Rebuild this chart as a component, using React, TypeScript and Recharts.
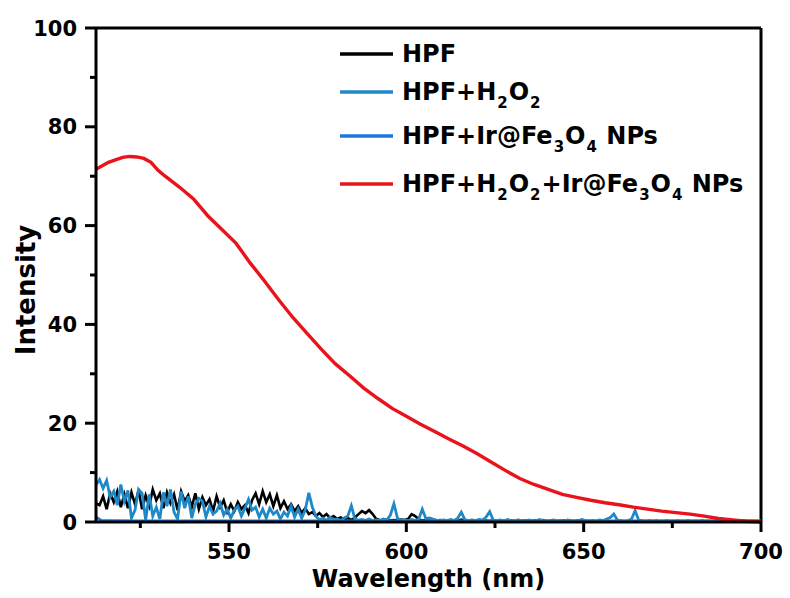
import React from 'react';
import { LineChart, Line, XAxis, YAxis, ReferenceLine } from 'recharts';

const FONT = '"DejaVu Sans", "Liberation Sans", Arial, sans-serif';

// ---- axes ----
const X_TICKS = [525, 550, 575, 600, 625, 650, 675, 700];
const X_MAJOR = [550, 600, 650, 700];
const Y_TICKS = [0, 10, 20, 30, 40, 50, 60, 70, 80, 90, 100];
const Y_MAJOR = [0, 20, 40, 60, 80, 100];

// ---- noisy spectra sampled every 1 nm from 512.5 nm ----
const NOISE_START = 512.5;
const NOISE_STEP = 1;

const hpf = [
  3.8, 3.4, 5.2, 2.6, 5.8, 4.0, 6.2, 3.0, 5.6, 2.8,
  6.0, 3.6, 6.4, 2.6, 5.4, 3.2, 6.6, 4.4, 5.8, 2.8,
  6.0, 3.8, 5.6, 2.4, 6.2, 4.2, 5.4, 3.0, 5.8, 2.6,
  5.0, 3.4, 4.6, 2.2, 5.2, 3.0, 4.4, 2.0, 3.6, 2.2,
  4.0, 2.6, 3.4, 1.8, 4.4, 5.8, 3.6, 6.2, 4.0, 5.6,
  3.2, 5.4, 2.8, 4.2, 2.6, 3.6, 2.2, 3.2, 1.8, 2.8,
  1.6, 2.0, 1.2, 1.8, 1.0, 1.6, 0.8, 1.2, 0.6, 0.9,
  0.5, 0.8, 0.4, 0.9, 1.6, 2.2, 1.8, 2.4, 1.6, 0.6,
  0.4, 0.3, 0.5, 0.3, 0.4, 0.3, 0.5, 0.4, 0.6, 1.6,
  1.2, 0.5, 0.3, 0.4, 0.3, 0.5, 0.2, 0.4, 0.3, 0.2,
  0.4, 0.3, 0.2, 0.5, 0.3, 0.2, 0.4, 0.2, 0.3, 0.2,
  0.3, 0.2, 0.4, 0.2, 0.3, 0.2, 0.2, 0.3, 0.2, 0.4,
  0.2, 0.3, 0.2, 0.2, 0.3, 0.2, 0.4, 0.2, 0.2, 0.3,
  0.2, 0.2, 0.3, 0.2, 0.2, 0.2, 0.3, 0.2, 0.2, 0.2,
  0.1, 0.2, 0.1, 0.1, 0.2, 0.1, 0.1, 0.1, 0.2, 0.1,
  0.1, 0.1, 0.1, 0.1, 0.1, 0.1, 0.1, 0.1, 0.1, 0.1,
  0.1, 0.1, 0.1, 0.1, 0.1, 0.1, 0.1, 0.1, 0.1, 0.1,
  0.1, 0.1, 0.1, 0.1, 0.1, 0.1, 0.1, 0.1, 0.1, 0.1,
  0.1, 0.1, 0.1, 0.1, 0.1, 0.1, 0.1, 0.1,
];

const hpfH2O2 = [
  7.5, 8.6, 6.8, 8.4, 5.0, 6.2, 3.4, 7.6, 4.2, 6.4,
  0.8, 2.4, 6.6, 5.8, 0.4, 5.6, 1.2, 3.0, 0.6, 6.0,
  3.2, 6.6, 2.0, 0.6, 6.2, 2.8, 5.2, 0.8, 3.6, 4.8,
  4.2, 1.0, 3.2, 1.6, 2.2, 3.8, 1.4, 2.6, 0.8, 2.4,
  3.2, 1.2, 2.8, 4.6, 2.4, 3.0, 1.0, 2.6, 0.8, 2.8,
  1.6, 2.2, 0.6, 2.0, 1.2, 3.2, 1.0, 2.6, 0.8, 2.4,
  5.9, 3.0, 1.2, 0.4, 0.8, 0.3, 1.0, 0.4, 0.6, 0.3,
  0.8, 1.2, 3.3, 0.6, 0.4, 0.5, 0.3, 0.6, 0.3, 0.4,
  0.3, 0.6, 0.4, 1.4, 3.7, 0.8, 0.3, 0.4, 0.3, 0.5,
  0.3, 0.6, 2.6, 0.7, 0.8, 0.6, 0.4, 0.3, 0.4, 0.3,
  0.5, 0.3, 0.8, 2.0, 0.5, 0.3, 0.4, 0.3, 0.5, 0.4,
  1.0, 2.1, 0.4, 0.3, 0.4, 0.2, 0.5, 0.3, 0.2, 0.4,
  0.3, 0.2, 0.4, 0.3, 0.2, 0.5, 0.3, 0.2, 0.3, 0.4,
  0.2, 0.3, 0.2, 0.4, 0.3, 0.2, 0.3, 0.5, 0.3, 0.2,
  0.3, 0.2, 0.4, 0.3, 0.6, 0.9, 1.6, 0.4, 0.3, 0.2,
  0.3, 0.6, 2.3, 0.4, 0.3, 0.2, 0.3, 0.2, 0.3, 0.2,
  0.2, 0.3, 0.2, 0.2, 0.3, 0.2, 0.2, 0.3, 0.2, 0.2,
  0.2, 0.3, 0.2, 0.2, 0.2, 0.3, 0.2, 0.2, 0.2, 0.2,
  0.2, 0.2, 0.2, 0.2, 0.2, 0.2, 0.2, 0.2,
];

// ---- flat spectrum ----
const irWl = [512.5, 514, 517, 525, 550, 575, 600, 625, 650, 675, 700];
const irVals = [1.0, 0.3, 0.25, 0.2, 0.2, 0.2, 0.2, 0.2, 0.2, 0.2, 0.2];

// ---- strong emission spectrum ----
const redWl = [
  512.5, 516, 520, 522, 524, 526, 528, 530, 532, 536, 540, 544, 548, 552, 556,
  560, 564, 568, 572, 576, 580, 584, 588, 592, 596, 600, 604, 608, 612, 616,
  620, 624, 628, 632, 636, 640, 644, 648, 652, 656, 660, 664, 668, 672, 676,
  680, 684, 688, 692, 696, 700,
];
const redVals = [
  71.4, 72.8, 73.8, 74.0, 73.9, 73.6, 72.8, 71.2, 70.0, 67.8, 65.4, 62.0, 59.2, 56.4, 52.4,
  48.8, 45.0, 41.4, 38.2, 35.0, 32.0, 29.6, 27.1, 25.0, 23.0, 21.4, 19.8, 18.3, 16.8, 15.4,
  13.8, 12.1, 10.4, 8.8, 7.6, 6.6, 5.6, 5.0, 4.4, 3.9, 3.5, 3.0, 2.6, 2.2, 1.9,
  1.6, 1.2, 0.7, 0.4, 0.15, 0.0,
];

const noiseWl = hpf.map((_, i) => NOISE_START + i * NOISE_STEP);
const toPts = (xs: number[], ys: number[]) => xs.map((x, i) => ({ x, y: ys[i] }));

const hpfData = toPts(noiseWl, hpf);
const h2o2Data = toPts(noiseWl, hpfH2O2);
const irData = toPts(irWl, irVals);
const redData = toPts(redWl, redVals);

const C_BLACK = '#000000';
const C_H2O2 = '#1f88c9';
const C_IR = '#1a78e0';
const C_RED = '#e8131b';

const XTick = (props: any) => {
  const { x, y, payload } = props;
  const major = X_MAJOR.includes(payload.value);
  return (
    <g>
      <line x1={x} x2={x} y1={y} y2={y + (major ? 10 : 6)} stroke="#000" strokeWidth={3} />
      {major && (
        <text x={x} y={y + 37} textAnchor="middle" fontFamily={FONT} fontWeight="bold" fontSize={21} fill="#000">
          {payload.value}
        </text>
      )}
    </g>
  );
};

const YTick = (props: any) => {
  const { x, y, payload } = props;
  const major = Y_MAJOR.includes(payload.value);
  return (
    <g>
      <line x1={x} x2={x - (major ? 11 : 6)} y1={y} y2={y} stroke="#000" strokeWidth={3} />
      {major && (
        <text x={x - 19} y={y + 7.5} textAnchor="end" fontFamily={FONT} fontWeight="bold" fontSize={21} fill="#000">
          {payload.value}
        </text>
      )}
    </g>
  );
};

const XLabel = (props: any) => {
  const vb = props.viewBox || {};
  return (
    <text x={vb.x + vb.width / 2} y={vb.y + 65} textAnchor="middle" fontFamily={FONT} fontWeight="bold" fontSize={24} fill="#000">
      Wavelength (nm)
    </text>
  );
};

const YLabel = (props: any) => {
  const vb = props.viewBox || {};
  const cx = vb.x + 35;
  const cy = vb.y + vb.height / 2 + 15;
  return (
    <text x={cx} y={cy} transform={`rotate(-90 ${cx} ${cy})`} textAnchor="middle" fontFamily={FONT} fontWeight="bold" fontSize={26} fill="#000">
      Intensity
    </text>
  );
};

const Sub = ({ children }: { children: React.ReactNode }) => (
  <span style={{ fontSize: 15, position: 'relative', top: 8, margin: '0 1px' }}>{children}</span>
);

const legendItems: { color: string; cy: number; label: React.ReactNode }[] = [
  { color: C_BLACK, cy: 54, label: <>HPF</> },
  { color: C_H2O2, cy: 92, label: <>HPF+H<Sub>2</Sub>O<Sub>2</Sub></> },
  { color: C_IR, cy: 136, label: <>HPF+Ir@Fe<Sub>3</Sub>O<Sub>4</Sub> NPs</> },
  { color: C_RED, cy: 184, label: <>HPF+H<Sub>2</Sub>O<Sub>2</Sub>+Ir@Fe<Sub>3</Sub>O<Sub>4</Sub> NPs</> },
];

export default function App() {
  return (
    <div style={{ position: 'absolute', left: 0, top: 0, width: 790, height: 598, background: '#fff' }}>
      <LineChart width={790} height={598} margin={{ top: 28, right: 29, bottom: 0, left: 0 }}>
        <XAxis
          dataKey="x"
          type="number"
          domain={[512.5, 700]}
          allowDataOverflow
          ticks={X_TICKS}
          interval={0}
          tick={<XTick />}
          tickLine={false}
          tickSize={0}
          tickMargin={0}
          height={76}
          axisLine={{ stroke: '#000', strokeWidth: 3 }}
          label={<XLabel />}
        />
        <YAxis
          type="number"
          domain={[0, 100]}
          ticks={Y_TICKS}
          interval={0}
          tick={<YTick />}
          tickLine={false}
          tickSize={0}
          tickMargin={0}
          width={96}
          axisLine={{ stroke: '#000', strokeWidth: 3 }}
          label={<YLabel />}
        />
        <ReferenceLine y={100} stroke="#000" strokeWidth={3} />
        <ReferenceLine x={700} stroke="#000" strokeWidth={3} />
        <Line data={hpfData} dataKey="y" type="linear" stroke={C_BLACK} strokeWidth={2.6} dot={false} isAnimationActive={false} />
        <Line data={irData} dataKey="y" type="linear" stroke={C_IR} strokeWidth={2.8} dot={false} isAnimationActive={false} />
        <Line data={h2o2Data} dataKey="y" type="linear" stroke={C_H2O2} strokeWidth={2.8} dot={false} isAnimationActive={false} />
        <Line data={redData} dataKey="y" type="linear" stroke={C_RED} strokeWidth={3.4} dot={false} isAnimationActive={false} />
      </LineChart>
      {legendItems.map((it, i) => (
        <div
          key={i}
          style={{
            position: 'absolute',
            left: 340,
            top: it.cy - 12,
            height: 24,
            lineHeight: '24px',
            whiteSpace: 'nowrap',
            fontFamily: FONT,
            fontWeight: 'bold',
            fontSize: 24,
            color: '#000',
          }}
        >
          <svg width={53} height={6} style={{ position: 'absolute', left: 0, top: 9 }}>
            <line x1={0} x2={53} y1={3} y2={3} stroke={it.color} strokeWidth={3.4} />
          </svg>
          <span style={{ position: 'absolute', left: 62, top: 0 }}>{it.label}</span>
        </div>
      ))}
    </div>
  );
}
